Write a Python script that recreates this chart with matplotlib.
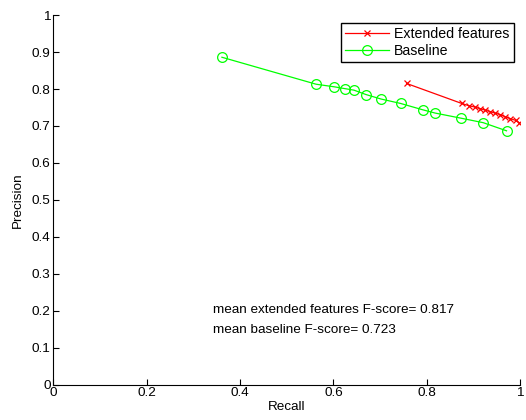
import matplotlib.pyplot as plt

plt.rcParams['font.family'] = ['Liberation Sans', 'DejaVu Sans']
plt.rcParams['font.size'] = 9.7

# precision / recall points
ext_recall = [0.757, 0.875, 0.890, 0.904, 0.914, 0.925, 0.936, 0.946,
              0.957, 0.968, 0.979, 0.991, 0.998]
ext_precision = [0.815, 0.761, 0.755, 0.751, 0.747, 0.743, 0.739, 0.735,
                 0.731, 0.725, 0.720, 0.715, 0.709]

base_recall = [0.361, 0.563, 0.602, 0.625, 0.644, 0.670, 0.702, 0.744,
               0.791, 0.818, 0.874, 0.921, 0.971]
base_precision = [0.886, 0.813, 0.806, 0.801, 0.797, 0.785, 0.773, 0.761,
                  0.744, 0.735, 0.721, 0.709, 0.687]

ext_fscore = 0.817
base_fscore = 0.723

fig = plt.figure(figsize=(5.26, 4.2), dpi=100)
ax = fig.add_axes([0.1017, 0.084, 0.887, 0.880])

ax.plot(ext_recall, ext_precision, color='red', marker='x', lw=0.9,
        ms=5, mew=0.9, label='Extended features')
ax.plot(base_recall, base_precision, color='#00ff00', marker='o', lw=0.9,
        ms=7, mew=0.9, mfc='none', label='Baseline')

ax.text(0.342, 0.202, 'mean extended features F-score= %.3f' % ext_fscore,
        va='center', ha='left')
ax.text(0.342, 0.148, 'mean baseline F-score= %.3f' % base_fscore,
        va='center', ha='left')

ax.set_xlim(0, 1)
ax.set_ylim(0, 1)
ax.set_xticks([0, 0.2, 0.4, 0.6, 0.8, 1])
ax.set_xticklabels(['0', '0.2', '0.4', '0.6', '0.8', '1'])
ax.set_yticks([i / 10 for i in range(11)])
ax.set_yticklabels(['0'] + ['0.%d' % i for i in range(1, 10)] + ['1'])
ax.tick_params(direction='in', length=4, width=0.8, pad=2)
ax.spines['top'].set_visible(False)
ax.spines['right'].set_visible(False)
ax.set_xlabel('Recall', labelpad=1)
ax.set_ylabel('Precision', labelpad=6)

leg = ax.legend(loc='upper right', bbox_to_anchor=(0.987, 0.979),
                fancybox=False, edgecolor='black', framealpha=1,
                fontsize=10.2, handlelength=3.1, borderpad=0.3,
                labelspacing=0.22, handletextpad=0.4, borderaxespad=0)
leg.get_frame().set_linewidth(1.0)

fig.savefig('out.png', dpi=100)
